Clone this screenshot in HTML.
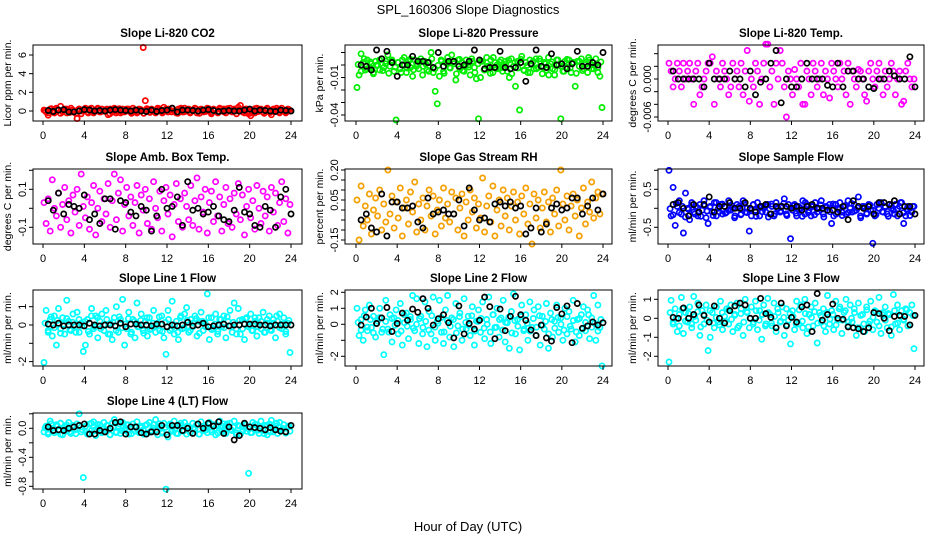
<!DOCTYPE html>
<html><head><meta charset="utf-8"><title>SPL_160306 Slope Diagnostics</title>
<style>
html,body{margin:0;padding:0;background:#fff;}
svg{display:block;font-family:"Liberation Sans",Arial,sans-serif;}
</style></head>
<body>
<svg id="chart" width="936" height="540" viewBox="0 0 936 540" xmlns="http://www.w3.org/2000/svg">
<rect width="936" height="540" fill="#fff"/>
<text x="468" y="14" text-anchor="middle" font-size="13">SPL_160306  Slope Diagnostics</text>
<text x="468" y="531" text-anchor="middle" font-size="13">Hour of Day (UTC)</text>
</svg>
<script>
// ---------- data (y values) ----------
const xTickValues = [0,4,8,12,16,20,24];

const co2Values = [0.1,-0.1,-0.45,0.2,0.0,-0.2,0.3,0.1,0.5,-0.1,0.2,-0.2,0.1,0.3,-0.1,0.0,-0.8,0.2,-0.3,0.1,0.3,-0.1,0.2,0.0,-0.2,0.1,0.3,-0.1,0.2,0.0,0.1,-0.4,0.2,-0.1,0.3,0.0,0.1,-0.2,0.2,-0.1,0.2,0.0,-0.1,0.3,0.1,-0.2,0.2,0.0,6.8,1.1,0.1,-0.1,0.2,0.0,-0.2,0.3,0.1,-0.1,0.4,0.2,-0.1,0.1,0.3,0.0,-0.2,0.2,0.1,-0.1,0.3,0.0,0.2,-0.1,0.1,0.3,-0.2,0.0,0.2,-0.1,0.1,0.3,0.0,-0.3,0.2,0.1,-0.1,0.3,0.0,0.2,-0.2,0.1,0.3,-0.1,0.2,0.0,0.4,0.6,0.1,-0.2,0.2,-0.3,-0.5,0.1,-0.2,0.3,0.0,0.2,-0.1,0.1,0.3,-0.1,-0.4,0.2,0.0,0.1,-0.2,0.3,0.1,-0.1,0.2,0.0];
const co2Core = [0.05,-0.2,0.25,-0.1,0.15,-0.25,0.05,0.2,-0.15,0.1,-0.25,0.2,0.0,0.1,-0.2,0.3,-0.05,0.25,-0.1,0.0,0.2,-0.3,0.1,-0.2,0.25,-0.1,0.05,0.2,-0.25,0.1,-0.05,0.15,-0.25,0.25,-0.15,0.05,0.0,0.25,-0.2,0.1,0.2,-0.1,0.0,-0.25,0.3,-0.1,0.15,-0.2,0.05,0.2,-0.25,0.1,-0.05,0.25,-0.15,0.05,-0.2,0.2,-0.1,0.25,0.0,0.1,-0.3,0.15,-0.1,0.2,0.0,-0.2,0.25,-0.05,0.1,-0.25,0.2,-0.15,0.05,0.3,-0.1,0.05,-0.2,0.15];
const co2Black = [0.05,-0.05,0.1,0.15,-0.1,-0.1,0.0,0.15,0.1,0.0,0.05,0.0,0.1,0.15,0.1,0.05,0.0,0.1,0.0,-0.05,0.1,-0.05,0.05,0.1,0.3,-0.1,0.1,0.1,0.05,0.0,0.1,0.15,0.05,-0.05,0.0,0.05,0.0,0.0,0.1,0.2,0.0,0.1,0.05,0.0,-0.05,0.1,0.05,0.0];

const pressValues = [-0.018,-0.008,0.009,0.002,-0.004,0.004,-0.002,0.001,-0.006,0.003,0.000,-0.004,0.005,-0.002,0.003,0.008,-0.001,0.004,-0.005,-0.044,0.002,-0.003,0.004,0.000,-0.006,0.003,-0.002,-0.009,0.004,0.001,-0.003,0.005,-0.001,0.003,-0.004,0.002,0.010,-0.006,-0.021,-0.031,-0.009,0.003,-0.005,0.002,0.006,-0.002,0.008,0.001,-0.012,0.004,-0.003,0.002,-0.005,0.004,0.000,-0.008,0.003,-0.002,-0.011,-0.043,-0.010,0.003,-0.004,0.006,-0.001,0.004,-0.006,0.002,0.000,-0.003,0.004,-0.002,0.003,-0.005,-0.010,0.005,-0.001,-0.017,0.003,-0.036,0.007,-0.004,0.002,-0.006,0.004,0.000,-0.003,0.005,-0.002,0.003,-0.007,0.002,-0.004,0.006,0.001,-0.003,-0.008,0.004,0.000,-0.043,-0.005,0.003,-0.002,0.004,-0.006,0.002,-0.017,0.003,-0.001,0.005,-0.003,0.002,-0.006,0.004,0.000,-0.003,0.005,-0.002,-0.009,-0.034];
const pressCore = [0.0004,-0.005,0.005,-0.003,0.0025,-0.007,-0.0003,0.004,-0.0045,0.001,-0.0066,0.003,-0.0017,0.002,-0.006,0.006,-0.0024,0.0046,-0.0038,-0.001,0.003,-0.008,0.001,-0.005,0.005,-0.003,-0.0003,0.004,-0.0066,0.002,-0.0024,0.0025,-0.007,0.0046,-0.0045,0.0004,-0.0017,0.005,-0.006,0.001,0.003,-0.0038,-0.001,-0.0066,0.006,-0.003,0.0025,-0.005,0.0004,0.004,-0.007,0.002,-0.0024,0.0046,-0.0045,-0.0003,-0.006,0.003,-0.003,0.005,-0.0017,0.001,-0.008,0.0025,-0.0038,0.004,-0.001,-0.005,0.0046,-0.0024,0.002,-0.0066,0.003,-0.0045,0.0004,0.006,-0.003,-0.0003,-0.006,0.0025];
const pressBlack = [0.000,-0.001,-0.004,0.012,0.005,0.011,0.002,-0.009,0.000,0.000,0.007,0.003,0.003,0.002,-0.002,0.010,-0.001,0.003,0.003,-0.001,0.000,0.003,0.012,0.004,-0.003,-0.002,-0.002,0.011,-0.002,-0.003,-0.002,0.002,-0.013,0.001,0.012,-0.001,-0.002,0.009,0.000,0.001,-0.003,0.001,0.011,-0.001,-0.001,0.002,0.000,0.010];

const tempValues = [0.0025,0.00125,-0.00125,0,0.0025,0.00125,-0.00125,0.0025,0,0.00125,0.0025,0,-0.004,0.00125,0.0025,-0.0025,-0.00125,0,0.00125,0.0025,0.0025,0.0035,-0.004,0.00125,0,-0.00125,0.0025,0.00125,0,-0.0025,-0.00125,0.0025,0,0.00125,-0.00125,0.0025,-0.0025,0.00125,0.0045,-0.0035,0,-0.00125,0.0025,0.00125,-0.004,0,0.0025,0.0055,0.0055,-0.00125,0.00125,-0.004,0.0025,0,0.0045,0.0025,-0.00125,-0.006,0.00125,0,-0.0025,0.0015,0,-0.00125,0.0025,-0.004,-0.004,0.00125,0,-0.0025,0.0025,0.00125,-0.00125,0,0.0025,-0.0025,0.00125,0,-0.003,0.0025,0.00125,0,-0.00125,0.0025,0,0.00125,-0.0025,0.0025,-0.004,0.00125,0,-0.00125,0.0015,0.00125,0,-0.0025,-0.0035,0.00125,0.0025,0,-0.00125,0.00125,0.0025,0,-0.0025,0.00125,-0.00125,0,0.0025,0.00125,-0.0025,0,0.00125,-0.004,-0.0035,0.00125,0.0025,0,-0.00125,0];
const tempBlack = [0.00125,0,0,0,0,0,-0.00125,0.0025,0,0,0,0.00125,0,0,-0.00125,0.00125,-0.0025,-0.0005,0,0.0025,0.0045,-0.00375,0,-0.00125,-0.00125,0,0.0025,0,0,0,-0.001,-0.00125,0.0025,-0.00125,0.00125,0.00125,0,0,-0.00125,-0.0015,0,0,0.00125,0.0005,0,0,0.0035,-0.00125];

const ambValues = [0.03,-0.08,0.05,-0.12,0.15,0.0,-0.04,0.08,-0.1,0.02,0.11,-0.06,0.04,-0.13,0.07,-0.02,0.1,-0.09,0.18,0.01,-0.05,0.06,-0.11,0.03,0.12,-0.14,0.0,0.09,-0.07,0.05,-0.03,0.13,-0.1,0.04,0.18,-0.06,0.08,0.15,-0.12,0.02,0.11,-0.04,0.06,-0.09,0.03,0.12,-0.13,0.07,-0.01,0.1,-0.08,0.05,-0.11,0.14,0.0,-0.05,0.09,-0.12,0.04,0.11,-0.03,0.07,-0.15,0.02,0.13,-0.07,0.05,-0.1,0.08,0.01,-0.06,0.12,-0.09,0.04,0.16,-0.11,0.06,-0.02,0.1,-0.13,0.03,0.09,-0.07,0.14,-0.04,0.06,-0.12,0.02,0.11,-0.08,0.05,-0.1,0.08,-0.03,0.13,-0.06,0.07,-0.14,0.01,0.1,-0.05,0.04,-0.11,0.12,0.0,-0.08,0.09,-0.04,0.06,-0.12,0.11,-0.02,0.08,-0.09,0.03,0.14,-0.07,0.05,-0.13,0.02];
const ambBlack = [0.04,-0.01,0.08,-0.03,0.02,0.01,0.0,0.07,-0.06,-0.03,-0.08,0.05,0.05,-0.11,0.04,0.03,-0.02,-0.04,0.01,-0.01,-0.12,-0.04,0.1,0.0,0.01,0.06,-0.09,0.14,-0.01,0.0,-0.03,-0.02,0.01,-0.04,-0.06,-0.07,-0.01,0.11,-0.02,-0.03,-0.09,-0.1,0.01,-0.01,-0.1,0.06,0.1,-0.03];

const rhValues = [0.05,-0.15,0.12,-0.08,0.02,-0.05,0.08,-0.12,0.0,0.06,-0.03,0.1,-0.1,0.03,-0.06,0.2,-0.02,0.07,-0.09,0.04,-0.04,0.11,-0.13,0.01,0.05,-0.07,0.09,-0.01,0.14,-0.11,0.03,-0.05,0.06,-0.1,0.02,0.1,-0.03,0.07,-0.12,0.0,0.05,-0.08,0.11,-0.04,0.03,-0.06,0.09,-0.02,0.06,-0.1,0.01,0.08,-0.13,0.04,-0.05,0.1,-0.01,0.06,-0.09,0.03,-0.04,0.16,-0.11,0.02,0.07,-0.06,0.12,-0.13,0.0,0.05,-0.08,0.1,-0.03,0.06,-0.1,0.02,0.09,-0.05,0.04,-0.12,0.07,-0.02,0.11,-0.07,0.03,-0.17,0.08,-0.04,0.05,-0.09,0.01,0.09,-0.06,0.04,-0.11,0.06,-0.02,0.1,-0.08,0.2,0.03,-0.05,0.07,-0.1,0.02,0.08,-0.03,0.05,-0.13,0.01,0.11,-0.07,0.04,-0.01,0.14,-0.04,0.06,0.09,-0.02,0.08];
const rhBlack = [-0.05,-0.02,-0.09,-0.11,0.08,-0.13,0.04,0.04,0.01,0.01,0.02,-0.06,-0.09,0.06,-0.02,-0.01,0.0,-0.02,-0.02,0.05,-0.08,0.11,0.0,-0.05,-0.04,-0.06,0.03,0.04,0.02,0.04,0.01,0.02,-0.12,-0.09,0.01,-0.11,-0.07,0.01,0.03,0.0,0.01,0.06,0.06,-0.02,0.02,0.06,0.0,0.08];

const sampleValues = [1.0,-0.2,0.55,-0.45,0.05,0.2,-0.15,-0.65,0.4,0.0,-0.3,0.15,-0.1,0.05,-0.2,0.1,-0.05,0.2,-0.25,-0.4,0.05,-0.1,0.15,-0.2,0.0,0.1,-0.15,0.05,-0.1,0.2,-0.05,0.0,-0.2,0.1,0.05,-0.15,0.2,-0.1,0.0,-0.6,-0.2,0.1,-0.05,0.15,-0.2,0.05,0.0,-0.1,0.1,-0.15,0.05,-0.2,0.15,0.0,-0.1,0.05,0.25,-0.15,0.1,-0.8,-0.05,0.1,-0.2,0.05,0.0,0.2,-0.15,0.1,-0.05,-0.2,0.05,0.15,-0.1,0.0,0.2,-0.15,0.05,-0.05,0.1,-0.4,-0.2,0.1,0.0,0.15,-0.1,0.05,-0.15,0.2,0.0,-0.1,0.1,-0.05,0.3,-0.2,0.05,0.0,-0.15,0.1,-0.05,-0.92,-0.2,0.1,0.0,0.15,-0.1,0.05,-0.15,0.1,0.0,-0.05,0.1,-0.2,0.05,0.15,-0.4,-0.2,0.05,0.0,-0.1,0.05];
const sampleCore = [-0.01,-0.17,0.13,-0.11,0.05,-0.23,-0.03,0.09,-0.15,0.01,-0.21,0.07,-0.07,0.03,-0.19,0.15,-0.09,0.11,-0.13,-0.05,0.07,-0.25,0.01,-0.17,0.13,-0.11,-0.03,0.09,-0.21,0.03,-0.09,0.05,-0.23,0.11,-0.15,-0.01,-0.07,0.13,-0.19,0.01,0.07,-0.13,-0.05,-0.21,0.15,-0.11,0.05,-0.17,-0.01,0.09,-0.23,0.03,-0.09,0.11,-0.15,-0.03,-0.19,0.07,-0.11,0.13,-0.07,0.01,-0.25,0.05,-0.13,0.09,-0.05,-0.17,0.11,-0.09,0.03,-0.21,0.07,-0.15,-0.01,0.15,-0.11,-0.03,-0.19,0.05];
const sampleBlack = [0.1,0.15,0.0,-0.2,0.1,-0.1,0.1,0.3,-0.1,0.05,0.05,0.15,0.0,0.0,0.15,0.0,-0.1,0.05,0.1,-0.15,0.05,0.05,0.05,0.0,0.05,-0.05,0.05,0.1,0.0,0.0,-0.05,-0.05,-0.1,0.05,-0.3,0.2,0.05,0.0,0.05,-0.15,0.15,0.15,0.1,0.2,-0.15,0.05,0.05,-0.15];

const line1Values = [-2.05,0.8,-0.4,0.3,-0.6,0.5,-1.1,0.9,-0.2,0.4,-0.5,1.35,0.2,-0.3,0.6,-0.1,0.7,-0.4,0.1,-1.45,-1.1,0.3,-0.5,0.9,-0.2,0.5,-0.7,0.2,0.6,-0.3,0.8,-0.5,0.1,-0.8,0.4,1.0,-0.4,0.3,1.4,-1.1,-0.2,0.7,-0.5,0.3,-0.7,1.2,-0.1,0.6,-0.3,0.2,-0.6,0.4,-0.2,0.8,-0.4,0.1,-0.3,0.5,-0.7,-1.6,0.8,-0.3,1.3,-0.5,0.2,-0.8,0.4,-0.2,0.6,0.95,-0.4,0.3,-0.1,0.5,-0.6,0.2,0.7,-0.3,0.1,1.7,-0.8,0.4,-0.2,0.6,-0.5,0.3,-0.1,0.5,-0.7,0.2,0.8,-0.4,1.2,-0.2,0.9,-0.5,0.3,-0.8,0.4,-0.1,0.6,-0.3,0.2,-0.6,0.4,-0.2,0.7,-0.4,0.1,0.5,-0.3,0.3,-0.7,0.2,0.6,-0.2,0.4,-0.5,0.1,-1.5];
const line1Core = [0.1,-0.3,0.45,-0.15,0.25,-0.45,0.05,0.35,-0.25,0.15,-0.4,0.3,-0.05,0.2,-0.35,0.5,-0.1,0.4,-0.2,0.0,0.3,-0.5,0.15,-0.3,0.45,-0.15,0.05,0.35,-0.4,0.2,-0.1,0.25,-0.45,0.4,-0.25,0.1,-0.05,0.45,-0.35,0.15,0.3,-0.2,0.0,-0.4,0.5,-0.15,0.25,-0.3,0.1,0.35,-0.45,0.2,-0.1,0.4,-0.25,0.05,-0.35,0.3,-0.15,0.45,-0.05,0.15,-0.5,0.25,-0.2,0.35,0.0,-0.3,0.4,-0.1,0.2,-0.4,0.3,-0.25,0.1,0.5,-0.15,0.05,-0.35,0.25];
const line1Black = [0.05,0.0,0.1,-0.05,0.0,0.0,0.0,-0.05,0.1,0.0,-0.05,0.0,0.0,-0.05,0.1,-0.1,0.05,0.05,0.0,0.0,-0.05,0.05,0.05,-0.1,0.0,-0.05,0.0,0.15,-0.05,0.0,0.1,-0.1,-0.05,0.0,0.05,-0.05,0.0,0.0,0.05,0.05,0.05,0.0,0.0,-0.05,0.0,0.0,0.0,0.0];

const line2Values = [1.0,-0.7,0.3,-1.0,0.9,-0.4,1.2,-0.2,0.5,-0.8,0.2,1.0,-0.5,-1.9,1.5,-0.3,0.6,-1.1,0.4,0.9,-0.6,1.3,-1.3,0.1,0.7,-0.9,0.3,1.8,-0.4,1.6,-1.2,0.5,-0.2,1.4,-1.4,0.8,-0.6,1.7,-1.0,0.2,1.5,-0.5,-1.2,0.9,1.8,-0.8,0.4,-1.4,1.3,-0.1,0.7,-1.0,1.6,-0.3,0.5,-0.7,1.1,-1.3,0.2,0.9,-0.5,1.4,-0.9,0.3,1.7,-1.2,0.6,-0.2,1.0,-0.8,0.4,1.5,-1.1,0.1,-1.5,0.8,1.9,-0.6,0.3,-1.6,1.2,-0.4,0.6,-1.0,1.4,-0.2,0.9,-0.7,1.1,-1.3,0.5,-0.3,1.3,-1.5,0.7,-0.8,0.2,1.2,-0.5,0.4,-1.0,1.0,-0.6,0.8,-0.3,1.5,-1.1,0.3,-0.7,0.6,1.1,-0.4,0.9,-0.9,0.4,1.8,-1.0,1.2,-0.2,-2.6];
const line2Core = [0.12,-0.36,0.54,-0.18,0.3,-0.54,0.06,0.42,-0.3,0.18,-0.48,0.36,-0.06,0.24,-0.42,0.6,-0.12,0.48,-0.24,0.0,0.36,-0.6,0.18,-0.36,0.54,-0.18,0.06,0.42,-0.48,0.24,-0.12,0.3,-0.54,0.48,-0.3,0.12,-0.06,0.54,-0.42,0.18,0.36,-0.24,0.0,-0.48,0.6,-0.18,0.3,-0.36,0.12,0.42,-0.54,0.24,-0.12,0.48,-0.3,0.06,-0.42,0.36,-0.18,0.54,-0.06,0.18,-0.6,0.3,-0.24,0.42,0.0,-0.36,0.48,-0.12,0.24,-0.48,0.36,-0.3,0.12,0.6,-0.18,0.06,-0.42,0.3];
const line2Black = [-0.05,0.45,1.0,0.05,0.4,1.05,-0.45,0.05,0.7,0.25,0.95,0.75,1.6,1.0,-0.05,0.35,0.6,0.1,-0.85,1.15,-0.6,0.05,-0.3,0.25,1.7,1.1,-0.9,0.95,-0.4,0.5,1.75,0.6,0.25,-0.35,-0.7,-0.05,-0.85,-1.05,1.05,0.65,1.15,-1.15,1.3,-0.25,-0.1,0.15,-0.05,0.1];

const line3Values = [-2.3,0.95,-0.3,0.5,-0.7,0.2,1.1,-0.8,0.3,-0.2,0.6,-0.5,1.15,-0.1,0.8,-0.9,0.4,-0.3,0.7,-1.7,-1.0,0.3,-0.5,0.6,-0.2,0.9,-0.6,0.1,0.5,-0.3,0.7,-0.7,0.2,0.8,-0.4,0.5,-0.9,1.0,0.3,-0.5,0.6,-0.2,0.9,-0.6,0.4,-1.1,0.7,-0.3,1.05,0.2,-0.4,0.8,-0.7,0.3,-0.2,0.6,-0.9,0.5,-0.1,-1.35,0.4,-0.6,0.9,-0.3,0.7,-0.5,1.0,-0.8,0.2,0.6,-0.4,0.8,-1.3,0.3,-0.2,0.5,-0.7,1.2,-0.3,0.4,-0.6,0.9,-0.1,0.6,-0.8,0.3,1.0,-0.4,0.7,-0.2,0.5,-0.9,0.8,-0.5,0.2,-0.7,0.6,-0.3,0.9,-0.6,0.4,-0.2,1.1,-0.8,0.3,0.6,-0.5,0.2,-0.9,1.25,-0.3,0.7,-0.6,0.4,-0.1,0.5,-0.4,0.3,0.7,-1.6];
const line3Core = [0.3,-0.2,0.0,-0.4,0.5,-0.15,0.25,-0.3,0.1,0.35,-0.45,0.2,-0.1,0.4,-0.25,0.05,-0.35,0.3,-0.15,0.45,-0.05,0.15,-0.5,0.25,-0.2,0.35,0.0,-0.3,0.4,-0.1,0.2,-0.4,0.3,-0.25,0.1,0.5,-0.15,0.05,-0.35,0.25,0.1,-0.3,0.45,-0.15,0.25,-0.45,0.05,0.35,-0.25,0.15,-0.4,0.3,-0.05,0.2,-0.35,0.5,-0.1,0.4,-0.2,0.0,0.3,-0.5,0.15,-0.3,0.45,-0.15,0.05,0.35,-0.4,0.2,-0.1,0.25,-0.45,0.4,-0.25,0.1,-0.05,0.45,-0.35,0.15];
const line3Black = [0.05,0.0,0.55,0.0,0.2,0.7,0.15,-0.2,0.65,0.0,-0.25,0.4,0.65,0.8,0.7,0.0,0.0,1.05,0.25,0.05,-0.5,0.8,-0.4,0.05,-0.2,0.6,0.7,-0.7,1.3,-0.1,0.2,0.75,0.0,-0.05,-0.45,-0.5,-0.55,-0.7,-0.5,0.3,0.25,0.0,-0.65,0.1,0.15,0.1,-0.35,0.15];

const line4Values = [-0.05,0.03,-0.08,0.1,0.0,-0.06,0.05,-0.03,0.07,-0.09,0.02,-0.04,0.08,-0.07,0.04,-0.02,0.06,0.2,-0.05,-0.68,0.03,-0.08,0.06,-0.03,0.09,-0.1,0.01,0.05,-0.06,0.08,-0.02,0.04,-0.09,0.07,0.12,-0.05,0.03,-0.07,0.08,-0.03,0.05,-0.08,0.02,0.06,-0.04,0.09,-0.06,0.01,-0.02,0.04,-0.07,0.08,-0.03,0.05,0.12,-0.09,0.03,-0.05,0.07,-0.84,-0.12,0.06,-0.02,0.1,-0.07,0.03,0.04,-0.04,0.08,-0.08,0.02,-0.05,0.07,-0.01,0.05,-0.08,0.09,-0.03,0.04,-0.06,0.08,-0.02,0.05,-0.09,0.03,0.1,-0.04,0.06,-0.07,0.01,0.07,-0.03,0.1,-0.06,0.04,-0.08,0.02,0.05,-0.04,-0.62,-0.06,0.08,-0.02,0.05,-0.07,0.1,-0.03,0.04,-0.09,0.06,0.11,-0.05,0.03,-0.07,0.08,-0.02,0.05,-0.06,0.02,-0.04];
const line4Core = [0.006,-0.058,0.062,-0.034,0.03,-0.082,-0.002,0.046,-0.05,0.014,-0.074,0.038,-0.018,0.022,-0.066,0.07,-0.026,0.054,-0.042,-0.01,0.038,-0.09,0.014,-0.058,0.062,-0.034,-0.002,0.046,-0.074,0.022,-0.026,0.03,-0.082,0.054,-0.05,0.006,-0.018,0.062,-0.066,0.014,0.038,-0.042,-0.01,-0.074,0.07,-0.034,0.03,-0.058,0.006,0.046,-0.082,0.022,-0.026,0.054,-0.05,-0.002,-0.066,0.038,-0.034,0.062,-0.018,0.014,-0.09,0.03,-0.042,0.046,-0.01,-0.058,0.054,-0.026,0.022,-0.074,0.038,-0.05,0.006,0.07,-0.034,-0.002,-0.066,0.03];
const line4Black = [0.02,-0.03,-0.02,-0.03,0.0,0.02,0.04,0.06,-0.08,-0.08,-0.03,-0.05,0.0,0.08,0.09,-0.08,0.02,0.02,-0.06,-0.08,-0.05,-0.05,0.04,-0.09,0.04,0.04,-0.03,0.0,-0.07,0.06,0.0,0.07,0.03,0.09,-0.07,0.02,-0.16,-0.1,0.07,0.02,0.01,0.0,-0.02,0.01,-0.02,-0.04,-0.05,0.04];

// tick values / labels
const co2Ticks = [0,2,4,6], co2Labels = ["0","2","4","6"];
const pressTicks = [-0.04,-0.03,-0.02,-0.01,0,0.01], pressLabels = ["-0.04","","","-0.01","",""];
const tempTicks = [-0.006,-0.004,-0.002,0,0.002,0.004], tempLabels = ["-0.006","","","0.000","",""];
const ambTicks = [-0.1,0,0.1,0.2], ambLabels = ["-0.1","","0.1",""];
const rhTicks = [-0.15,-0.1,-0.05,0,0.05,0.1,0.15,0.2], rhLabels = ["-0.15","","","","0.05","","","0.20"];
const sampleTicks = [-0.5,0,0.5,1.0], sampleLabels = ["-0.5","","0.5",""];
const line1Ticks = [-2,-1,0,1], line1Labels = ["-2","","0","1"];
const line2Ticks = [-2,-1,0,1,2], line2Labels = ["-2","","0","1","2"];
const line3Ticks = [-2,-1,0,1], line3Labels = ["-2","-1","0","1"];
const line4Ticks = [-0.8,-0.6,-0.4,-0.2,0,0.2], line4Labels = ["-0.8","","-0.4","","0.0",""];
const noCore = [];

// ---------- layout ----------
const NS = "http://www.w3.org/2000/svg";
const svg = document.getElementById("chart");
const cols = [{l:33,r:302,x0:43,x24:291},{l:345,r:612,x0:356,x24:603},{l:658,r:924,x0:668,x24:915}];
const rows = [{t:45,b:121},{t:169,b:244},{t:290,b:366},{t:413,b:489}];
const panels = [
 {key:"co2",title:"Slope Li-820 CO2",ylab:"Licor ppm per min.",c:0,r:0,color:"#ff0000",vals:co2Values,core:co2Core,blk:co2Black,ticks:co2Ticks,labels:co2Labels,a:[0,111],b:[6,55]},
 {key:"pressure",title:"Slope Li-820 Pressure",ylab:"kPa per min.",c:1,r:0,color:"#00ee00",vals:pressValues,core:pressCore,blk:pressBlack,ticks:pressTicks,labels:pressLabels,a:[0,65],b:[-0.04,115]},
 {key:"temp",title:"Slope Li-820 Temp.",ylab:"degrees C per min.",c:2,r:0,color:"#ff00ff",vals:tempValues,core:noCore,blk:tempBlack,ticks:tempTicks,labels:tempLabels,a:[0,79],b:[-0.006,117]},
 {key:"amb-box-temp",title:"Slope Amb. Box Temp.",ylab:"degrees C per min.",c:0,r:1,color:"#ff00ff",vals:ambValues,core:noCore,blk:ambBlack,ticks:ambTicks,labels:ambLabels,a:[0,208.3],b:[0.1,189.3]},
 {key:"gas-rh",title:"Slope Gas Stream RH",ylab:"percent per min.",c:1,r:1,color:"#f5a000",vals:rhValues,core:noCore,blk:rhBlack,ticks:rhTicks,labels:rhLabels,a:[0.05,200],b:[-0.15,240]},
 {key:"sample-flow",title:"Slope Sample Flow",ylab:"ml/min per min.",c:2,r:1,color:"#0000ff",vals:sampleValues,core:sampleCore,blk:sampleBlack,ticks:sampleTicks,labels:sampleLabels,a:[0,208.3],b:[0.5,189.3]},
 {key:"line1-flow",title:"Slope Line 1 Flow",ylab:"ml/min per min.",c:0,r:2,color:"#00ffff",vals:line1Values,core:line1Core,blk:line1Black,ticks:line1Ticks,labels:line1Labels,a:[0,325],b:[1,306.7]},
 {key:"line2-flow",title:"Slope Line 2 Flow",ylab:"ml/min per min.",c:1,r:2,color:"#00ffff",vals:line2Values,core:line2Core,blk:line2Black,ticks:line2Ticks,labels:line2Labels,a:[0,324.3],b:[1,308.3]},
 {key:"line3-flow",title:"Slope Line 3 Flow",ylab:"ml/min per min.",c:2,r:2,color:"#00ffff",vals:line3Values,core:line3Core,blk:line3Black,ticks:line3Ticks,labels:line3Labels,a:[0,318.3],b:[1,299.3]},
 {key:"line4-flow",title:"Slope Line 4 (LT) Flow",ylab:"ml/min per min.",c:0,r:3,color:"#00ffff",vals:line4Values,core:line4Core,blk:line4Black,ticks:line4Ticks,labels:line4Labels,a:[0,428.3],b:[-0.4,457.3]}
];

function mk(tag, attrs, parent){
  const e = document.createElementNS(NS, tag);
  for (const k in attrs) e.setAttribute(k, attrs[k]);
  parent.appendChild(e);
  return e;
}

panels.forEach(p => {
  const C = cols[p.c], R = rows[p.r];
  const xScale = h => C.x0 + (C.x24 - C.x0) * h / 24;
  const yScale = v => p.a[1] + (v - p.a[0]) * (p.b[1] - p.a[1]) / (p.b[0] - p.a[0]);
  const g = mk("g", {}, svg);
  
  

  const title = mk("text", {x:(C.l+C.r)/2, y:R.t-8, "text-anchor":"middle", "font-size":"11.5", "font-weight":"bold"}, g);
  
  
  title.textContent = p.title;

  const pts = mk("g", {fill:"none", stroke:p.color, "stroke-width":"1.7"}, g);
  
  
  const nc = p.core.length;
  p.core.forEach((v, i) => {
    const h = 0.2 + i * 23.6 / (nc - 1);
    const c = mk("circle", {cx:xScale(h).toFixed(1), cy:yScale(v).toFixed(1), r:"2.6"}, pts);
    
    
  });
  const n = p.vals.length;
  p.vals.forEach((v, i) => {
    const h = 0.1 + i * 23.8 / (n - 1);
    const c = mk("circle", {cx:xScale(h).toFixed(1), cy:yScale(v).toFixed(1), r:"2.6"}, pts);
    
    
  });
  const bpts = mk("g", {fill:"none", stroke:"#000", "stroke-width":"1.7"}, g);
  
  
  const m = p.blk.length;
  p.blk.forEach((v, i) => {
    const h = (i + 1) * 24 / m;
    const c = mk("circle", {cx:xScale(h).toFixed(1), cy:yScale(v).toFixed(1), r:"2.6"}, bpts);
    
    
  });

  const box = mk("rect", {x:C.l, y:R.t, width:C.r-C.l, height:R.b-R.t, fill:"none", stroke:"#000", "stroke-width":"1"}, g);
  
  

  const xa = mk("g", {"font-size":"11"}, g);
  
  
  xTickValues.forEach(t => {
    const x = xScale(t);
    mk("line", {x1:x, x2:x, y1:R.b, y2:R.b+4, stroke:"#000"}, xa);
    const tl = mk("text", {x:x, y:R.b+18, "text-anchor":"middle"}, xa);
    
    
    tl.textContent = t;
  });

  const ya = mk("g", {"font-size":"11"}, g);
  
  
  p.ticks.forEach((t, i) => {
    const y = yScale(t);
    mk("line", {x1:C.l-4, x2:C.l, y1:y, y2:y, stroke:"#000"}, ya);
    if (p.labels[i]) {
      const tl = mk("text", {x:0, y:0, "text-anchor":"middle", transform:`translate(${C.l-7},${y}) rotate(-90)`}, ya);
      
      
      tl.textContent = p.labels[i];
    }
  });
  const yl = mk("text", {x:0, y:0, "text-anchor":"middle", "font-size":"10.5", transform:`translate(${C.l-22},${(R.t+R.b)/2}) rotate(-90)`}, g);
  
  
  yl.textContent = p.ylab;
});
</script>
</body></html>
